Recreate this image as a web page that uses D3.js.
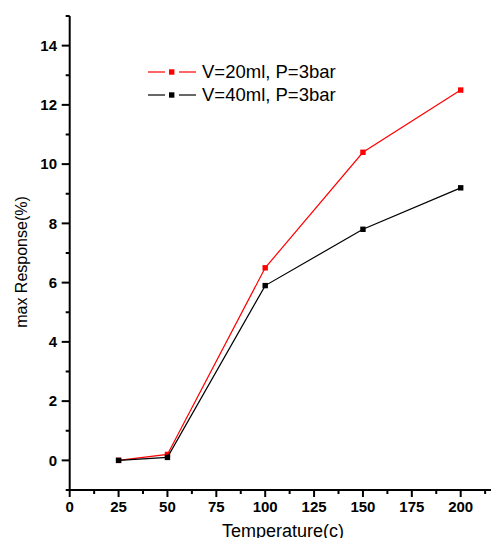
<!DOCTYPE html>
<html>
<head>
<meta charset="utf-8">
<script src="https://cdn.jsdelivr.net/npm/d3@7"></script>
<style>
body{margin:0;background:#fff;}
</style>
</head>
<body>
<div class="chart"></div>
<script>
var temps = [25, 50, 100, 150, 200];
var resp20 = [0, 0.2, 6.5, 10.4, 12.5];
var resp40 = [0, 0.1, 5.9, 7.8, 9.2];
var seriesNames = ["V=20ml, P=3bar", "V=40ml, P=3bar"];
var seriesColors = ["#ff0000", "#000000"];
var xTicks = [0, 25, 50, 75, 100, 125, 150, 175, 200];
var yTicks = [0, 2, 4, 6, 8, 10, 12, 14];

var svg = d3.select("div.chart")
    .append("svg")
    .attr("width", 491)
    .attr("height", 538);

var x = d3.scaleLinear().domain([0, 200]).range([69.7, 460.7]);
var y = d3.scaleLinear().domain([-1, 15]).range([490, 16]);
var font = "Liberation Sans, Arial, sans-serif";

// axes lines
svg.append("line")
    .attr("x1", x(0)).attr("x2", x(0))
    .attr("y1", y(15)).attr("y2", y(-1))
    .attr("stroke", "#000").attr("stroke-width", 2);
svg.append("line")
    .attr("x1", x(0) - 1).attr("x2", 491)
    .attr("y1", y(-1)).attr("y2", y(-1))
    .attr("stroke", "#000").attr("stroke-width", 2);

// x ticks
var xMinor = d3.range(12.5, 215, 25);
svg.selectAll(".xmaj").data(xTicks).enter().append("line")
    .attr("x1", d => x(d)).attr("x2", d => x(d))
    .attr("y1", y(-1)).attr("y2", y(-1) + 7)
    .attr("stroke", "#000").attr("stroke-width", 2);
svg.selectAll(".xmin").data(xMinor).enter().append("line")
    .attr("x1", d => x(d)).attr("x2", d => x(d))
    .attr("y1", y(-1)).attr("y2", y(-1) + 4)
    .attr("stroke", "#000").attr("stroke-width", 2);
svg.selectAll(".xlab").data(xTicks).enter().append("text")
    .text(d => d)
    .attr("x", d => x(d))
    .attr("y", 512)
    .attr("text-anchor", "middle")
    .attr("font-family", font)
    .attr("font-weight", "bold")
    .attr("font-size", "15px");

// y ticks
var yMinor = d3.range(-1, 16, 2);
svg.selectAll(".ymaj").data(yTicks).enter().append("line")
    .attr("x1", x(0) - 8).attr("x2", x(0))
    .attr("y1", d => y(d)).attr("y2", d => y(d))
    .attr("stroke", "#000").attr("stroke-width", 2);
svg.selectAll(".ymin").data(yMinor).enter().append("line")
    .attr("x1", x(0) - 4).attr("x2", x(0))
    .attr("y1", d => y(d)).attr("y2", d => y(d))
    .attr("stroke", "#000").attr("stroke-width", 2);
svg.selectAll(".ylab").data(yTicks).enter().append("text")
    .text(d => d)
    .attr("x", 57)
    .attr("y", d => y(d) + 5.3)
    .attr("text-anchor", "end")
    .attr("font-family", font)
    .attr("font-weight", "bold")
    .attr("font-size", "15px");

// axis titles
svg.append("text")
    .text("Temperature(c)")
    .attr("x", 283)
    .attr("y", 537)
    .attr("text-anchor", "middle")
    .attr("font-family", font)
    .attr("font-size", "18px");
svg.append("text")
    .text("max Response(%)")
    .attr("transform", "translate(27,262) rotate(-90)")
    .attr("text-anchor", "middle")
    .attr("font-family", font)
    .attr("font-size", "16px");

// series
var line = d3.line().x(d => x(d[0])).y(d => y(d[1]));
[resp20, resp40].forEach(function(vals, i){
    var pts = temps.map((t, j) => [t, vals[j]]);
    svg.append("path")
        .attr("d", line(pts))
        .attr("fill", "none")
        .attr("stroke", seriesColors[i])
        .attr("stroke-width", 1.2);
    svg.selectAll(".m" + i).data(pts).enter().append("rect")
        .attr("x", d => x(d[0]) - 2.7)
        .attr("y", d => y(d[1]) - 2.7)
        .attr("width", 5.4)
        .attr("height", 5.4)
        .attr("fill", seriesColors[i]);
});

// legend
var legY = [72, 95];
seriesNames.forEach(function(name, i){
    svg.append("line")
        .attr("x1", 148).attr("x2", 165)
        .attr("y1", legY[i]).attr("y2", legY[i])
        .attr("stroke", seriesColors[i]).attr("stroke-width", 1.2);
    svg.append("line")
        .attr("x1", 179).attr("x2", 196)
        .attr("y1", legY[i]).attr("y2", legY[i])
        .attr("stroke", seriesColors[i]).attr("stroke-width", 1.2);
    svg.append("rect")
        .attr("x", 169).attr("y", legY[i] - 2.7)
        .attr("width", 5.4).attr("height", 5.4)
        .attr("fill", seriesColors[i]);
    svg.append("text")
        .text(name)
        .attr("x", 202)
        .attr("y", legY[i] + 6)
        .attr("font-family", font)
        .attr("font-size", "18.5px");
});
</script>
</body>
</html>
